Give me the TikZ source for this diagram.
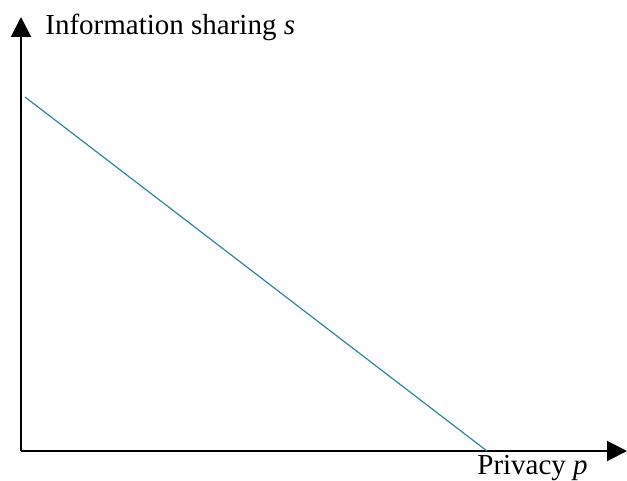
\documentclass[tikz,border=0pt]{standalone}
\usepackage{fontspec}
\setmainfont{Liberation Serif}
\usetikzlibrary{arrows.meta}
\definecolor{lineteal}{RGB}{49,133,155}
\begin{document}
\begin{tikzpicture}[x=0.5pt,y=-0.5pt,
  axis/.style={draw=black,line width=1pt,-{Triangle[length=10pt,width=10pt]}},
  curve/.style={draw=lineteal,line width=0.6pt},
  lbl/.style={inner sep=0pt,anchor=base west,font=\fontsize{14.5pt}{17pt}\selectfont}]
\useasboundingbox (0,0) rectangle (627,481);
\coordinate (O) at (21,451);
\coordinate (Ytip) at (21,17);
\coordinate (Xtip) at (627,451);
\coordinate (A) at (25,97);
\coordinate (B) at (487,451);
\draw[axis] (O) -- (Ytip);
\draw[axis] (O) -- (Xtip);
\draw[curve] (A) -- (B);
\node[lbl] (ylab) at (45,35) {Information sharing \textit{s}};
\node[lbl] (xlab) at (477,474) {Privacy \textit{p}};
\end{tikzpicture}
\end{document}
